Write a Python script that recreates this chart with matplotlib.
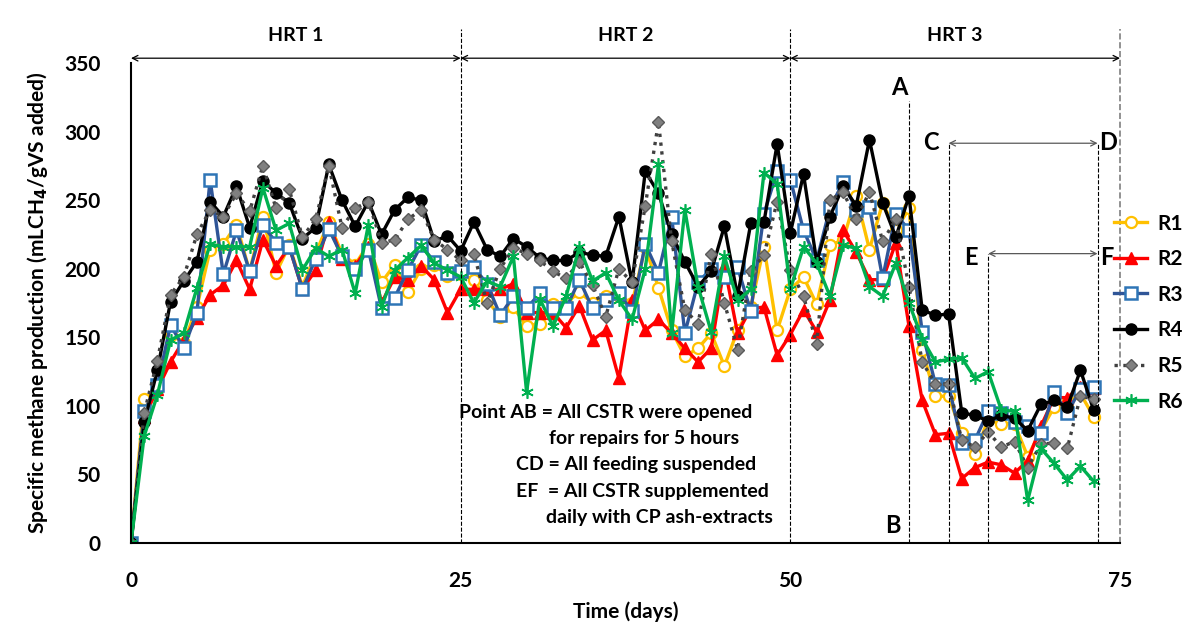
import matplotlib
matplotlib.use("Agg")
import matplotlib.pyplot as plt
import numpy as np

# Specific methane production per reactor, one value per day (days 0..73)
days = list(range(74))

r1 = [0, 105, 112, 152, 146, 172, 214, 218, 232, 198, 238, 197, 217, 187, 211, 234,
      211, 203, 218, 190, 203, 183, 200, 203, 195, 196, 192, 177, 165, 172, 158, 160,
      174, 175, 183, 175, 180, 180, 175, 216, 186, 155, 136, 142, 153, 129, 155, 172,
      216, 155, 185, 194, 174, 217, 221, 253, 214, 248, 228, 244, 141, 107, 107, 80,
      65, 90, 87, 87, 63, 82, 99, 102, 109, 92]
r2 = [0, 92, 112, 132, 148, 164, 181, 188, 206, 185, 221, 202, 216, 185, 199, 234,
      207, 202, 216, 175, 194, 192, 202, 192, 168, 185, 185, 185, 185, 189, 168, 168,
      168, 157, 173, 148, 155, 120, 177, 155, 163, 153, 142, 132, 142, 202, 153, 171,
      172, 137, 152, 170, 154, 177, 228, 212, 192, 192, 219, 158, 104, 79, 80, 47,
      55, 59, 57, 51, 60, 85, 106, 106, 114, 113]
r3 = [0, 96, 115, 159, 142, 168, 265, 196, 228, 198, 232, 219, 216, 185, 207, 229,
      209, 200, 214, 171, 179, 199, 217, 205, 197, 198, 201, 189, 166, 180, 171, 182,
      171, 171, 192, 171, 177, 182, 169, 218, 197, 238, 153, 190, 200, 194, 201, 169,
      240, 271, 265, 228, 206, 244, 263, 243, 245, 193, 240, 228, 154, 116, 115, 73,
      75, 96, 95, 88, 85, 80, 110, 95, 112, 114]
r4 = [0, 88, 126, 176, 191, 205, 249, 238, 260, 230, 264, 255, 248, 222, 230, 276,
      250, 231, 249, 225, 243, 252, 250, 220, 224, 213, 234, 214, 209, 222, 216, 208,
      206, 206, 212, 210, 209, 238, 190, 271, 255, 225, 205, 187, 198, 231, 180, 233,
      234, 291, 226, 269, 205, 238, 260, 246, 294, 248, 223, 253, 170, 166, 167, 95,
      93, 89, 93, 91, 82, 101, 104, 99, 126, 97]
r5 = [0, 95, 133, 181, 194, 225, 243, 238, 255, 242, 275, 244, 258, 223, 236, 275,
      230, 244, 249, 219, 221, 236, 243, 221, 214, 206, 211, 175, 200, 215, 211, 206,
      198, 193, 205, 188, 165, 200, 190, 246, 307, 220, 170, 160, 211, 175, 141, 198,
      210, 249, 199, 180, 145, 250, 256, 236, 256, 220, 236, 187, 132, 116, 116, 75,
      70, 81, 70, 74, 55, 72, 73, 69, 107, 105]
r6 = [0, 78, 108, 148, 153, 186, 218, 216, 216, 216, 259, 228, 233, 199, 215, 209,
      214, 182, 232, 172, 199, 208, 217, 204, 199, 194, 175, 191, 187, 209, 110, 178,
      158, 180, 216, 191, 197, 177, 163, 200, 276, 153, 243, 187, 154, 209, 177, 185,
      270, 262, 185, 216, 204, 180, 217, 215, 187, 180, 204, 175, 149, 132, 134, 135,
      120, 125, 97, 96, 31, 69, 58, 46, 56, 45]

series_labels = ["R1", "R2", "R3", "R4", "R5", "R6"]
x_ticks = [0, 25, 50, 75]
y_ticks = [0, 50, 100, 150, 200, 250, 300, 350]
hrt_labels = ["HRT 1", "HRT 2", "HRT 3"]
hrt_bounds = [0, 25, 50, 75]

note_lines = [
    "Point AB = All CSTR were opened",
    "for repairs for 5 hours",
    "CD = All feeding suspended",
    "EF  = All CSTR supplemented",
    "daily with CP ash-extracts",
]

plt.rcParams["font.family"] = ["Lato", "DejaVu Sans"]
plt.rcParams["font.weight"] = "bold"

fig = plt.figure(figsize=(11.97, 6.28), dpi=100)
ax = fig.add_axes([131 / 1197, 85 / 628, 989 / 1197, 480 / 628])

styles = [
    dict(color="#FFC000", lw=2.4, marker="o", ms=8, mfc="white", mec="#FFC000", mew=1.6),
    dict(color="#FF0000", lw=2.4, marker="^", ms=8, mfc="#FF0000", mec="#FF0000"),
    dict(color="#2F5597", lw=2.4, marker="s", ms=8, mfc="white", mec="#2E75B6", mew=1.8),
    dict(color="black", lw=2.4, marker="o", ms=8, mfc="black", mec="black"),
    dict(color="#404040", lw=2.4, ls=":", marker="D", ms=6.5, mfc="#808080", mec="#595959"),
    dict(color="#00B050", lw=2.4, marker=(6, 2, 0), ms=9, mfc="#00B050", mec="#00B050", mew=1.2),
]
for vals, lab, st in zip([r1, r2, r3, r4, r5, r6], series_labels, styles):
    ax.plot(days, vals, label=lab, **st)

ax.set_xlim(0, 75)
ax.set_ylim(0, 350)
ax.set_xticks(x_ticks)
ax.set_yticks(y_ticks)
ax.tick_params(axis="both", length=0, labelsize=15)
ax.tick_params(axis="x", pad=20)
ax.tick_params(axis="y", pad=22)
for s in ["top", "right"]:
    ax.spines[s].set_visible(False)
for s in ["left", "bottom"]:
    ax.spines[s].set_linewidth(1.5)

ax.set_xlabel("Time (days)", fontsize=15, fontweight="bold", labelpad=8)
ax.set_ylabel("Specific methane production (mLCH$_\\mathbf{4}$/gVS added)",
              fontsize=15, fontweight="bold", labelpad=10)

# HRT periods along the top
arrow_y = 353.5
for i, lab in enumerate(hrt_labels):
    ax.annotate("", xy=(hrt_bounds[i + 1], arrow_y), xytext=(hrt_bounds[i], arrow_y),
                arrowprops=dict(arrowstyle="<->", lw=0.9, color="black",
                                shrinkA=0, shrinkB=0),
                annotation_clip=False)
    ax.text((hrt_bounds[i] + hrt_bounds[i + 1]) / 2, 370, lab, ha="center", va="center",
            fontsize=14, fontweight="bold")
ax.vlines([25, 50], 0, 375, colors="black", linestyles="--", lw=0.8, clip_on=False)
ax.vlines([75], 0, 375, colors="#7F7F7F", linestyles="--", lw=1.2, clip_on=False)

# event markers
ax.vlines([59], 0, 322, colors="black", linestyles="--", lw=0.8)
ax.vlines([62], 0, 291.5, colors="black", linestyles="--", lw=0.8)
ax.vlines([65], 0, 211, colors="black", linestyles="--", lw=0.8)
ax.vlines([73.3], 0, 291.5, colors="black", linestyles="--", lw=0.8)
for x0, y0 in [(62, 291.5), (65, 211)]:
    ax.annotate("", xy=(73.3, y0), xytext=(x0, y0),
                arrowprops=dict(arrowstyle="<->", lw=0.9, color="#595959",
                                shrinkA=0, shrinkB=0))
for lab, x, y in [("A", 58.3, 332), ("B", 57.8, 13), ("C", 60.7, 292), ("D", 74.1, 292),
                  ("E", 63.7, 208), ("F", 74.0, 208)]:
    ax.text(x, y, lab, ha="center", va="center", fontsize=17, fontweight="bold")

note_x = [24.9, 31.7, 29.2, 29.2, 31.5]
note_y = [95.5, 76.5, 57, 37.5, 18.5]
for t, x, y in zip(note_lines, note_x, note_y):
    ax.text(x, y, t, ha="left", va="center", fontsize=14, fontweight="bold")

ax.legend(loc="center left", bbox_to_anchor=(0.975, 0.48), frameon=False,
          fontsize=15, handlelength=1.6, labelspacing=0.75, handletextpad=0.5,
          prop={"weight": "bold", "size": 15})

fig.savefig("out.png", dpi=100)
